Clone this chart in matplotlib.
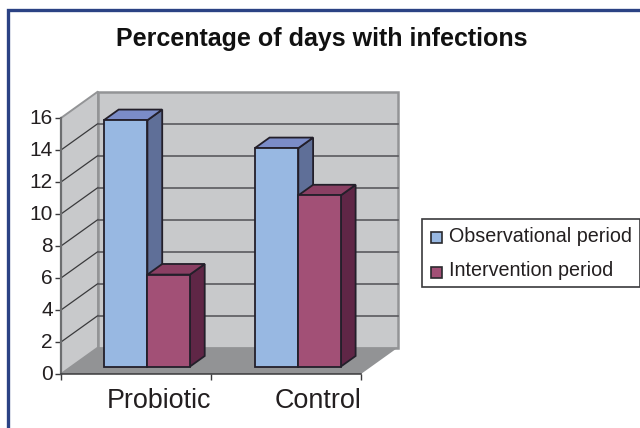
import matplotlib
matplotlib.use("Agg")
import matplotlib.pyplot as plt
from matplotlib.patches import Polygon, Rectangle

plt.rcParams['font.family'] = ['Liberation Sans', 'DejaVu Sans']

categories = ["Probiotic", "Control"]
series_names = ["Observational period", "Intervention period"]
observational = [15.4, 13.65]
intervention = [5.75, 10.7]
y_ticks = [0, 2, 4, 6, 8, 10, 12, 14, 16]

W, H = 640, 428
fig = plt.figure(figsize=(W / 100, H / 100), dpi=100, facecolor="white")

# full-figure overlay for the frame, in pixel coordinates
bg = fig.add_axes([0, 0, 1, 1], zorder=0)
bg.set_xlim(0, W); bg.set_ylim(H, 0); bg.axis("off")
bg.plot([7.5, 7.5, 640], [428, 9.5, 9.5], color="#2b4284", lw=2.4, solid_joinstyle="miter")

# front plane of the chart
L, R, B, T = 61, 361, 374, 118
ax = fig.add_axes([L / W, 1 - B / H, (R - L) / W, (B - T) / H], zorder=1)
ax.set_xlim(0, 2)
ax.set_ylim(0, 16)
ax.patch.set_visible(False)
for s in ax.spines.values():
    s.set_visible(False)

ux = (R - L) / 2      # px per category
uy = (B - T) / 16     # px per y unit
DX, DY = 37 / ux, 26.5 / uy   # total depth offset in data units


def pr(x, y, d):
    return (x + DX * d, y + DY * d)


def poly(pts, fc, ec="none", lw=0, z=1, clip=False):
    ax.add_patch(Polygon(pts, closed=True, facecolor=fc, edgecolor=ec, lw=lw,
                         zorder=z, clip_on=clip, joinstyle="miter"))


wall = "#c8c9cb"
edge = "#939496"
# back wall, side wall, floor
poly([pr(0, 0, 1), pr(2, 0, 1), pr(2, 16, 1), pr(0, 16, 1)], wall, edge, 1.8, 1)
poly([pr(0, 0, 0), pr(0, 0, 1), pr(0, 16, 1), pr(0, 16, 0)], wall, edge, 1.4, 1)
poly([pr(0, 0, 0), pr(2, 0, 0), pr(2, 0, 1), pr(0, 0, 1)], "#929395", "none", 0, 1.1)

# gridlines
for v in y_ticks[1:-1]:
    ax.plot([0, DX], [v, v + DY], color="#3a3a3c", lw=0.9, zorder=2, clip_on=False)
    ax.plot([DX, 2 + DX], [v + DY, v + DY], color="#5a5a5e", lw=1.2, zorder=2, clip_on=False)

# axes lines
ax.plot([0, 0], [0, 16], color="#6d6e70", lw=1.6, zorder=3, clip_on=False)
ax.plot([0, 2], [0, 0], color="#3a3a3c", lw=1.1, zorder=3, clip_on=False)

# 3D bars
bw = 42.5 / ux
d0, d1 = 0.28, 0.68
dk = "#231f2a"
centers = [0.507, 1.513]
for c, a, b in zip(centers, observational, intervention):
    for x0, v, front, side, top, zz in (
        (c - bw - 0.007, a, "#98b8e2", "#5f6f98", "#7b8cc8", 5),
        (c, b, "#a25076", "#5f2646", "#8a3f63", 6),
    ):
        x1 = c if x0 < c else c + bw
        poly([pr(x1, 0, d0), pr(x1, 0, d1), pr(x1, v, d1), pr(x1, v, d0)], side, dk, 1.3, zz)
        poly([pr(x0, v, d0), pr(x1, v, d0), pr(x1, v, d1), pr(x0, v, d1)], top, dk, 1.3, zz)
        poly([pr(x0, 0, d0), pr(x1, 0, d0), pr(x1, v, d0), pr(x0, v, d0)], front, dk, 1.3, zz)

ax.set_yticks(y_ticks)
ax.set_yticklabels([str(v) for v in y_ticks], fontsize=15, color="#231f20")
ax.set_xticks([0, 1, 2])
ax.set_xticklabels([])
ax.tick_params(axis="y", length=4, width=1, color="#3a3a3c", pad=2)
ax.tick_params(axis="x", length=4, width=1, color="#3a3a3c")
for lab in ax.get_yticklabels():
    lab.set_verticalalignment("center")
for c, name, off in zip(centers, categories, (16, 21.5)):
    ax.annotate(name, (c, 0), xytext=(off, -19.5), textcoords="offset points",
                ha="center", va="center", fontsize=19.4, color="#231f20",
                annotation_clip=False)

fig.text(321.5 / W, 1 - 39 / H, "Percentage of days with infections", ha="center", va="center",
         fontsize=18, fontweight="bold", color="#111111")

# legend
bg.set_zorder(2)
bg.add_patch(Rectangle((422, 219), 218, 68, facecolor="white", edgecolor="#3a3a3c", lw=1.2, clip_on=False))
for yy, col, name in zip((236, 271), ("#98b8e2", "#a25076"), series_names):
    bg.add_patch(Rectangle((430.5, yy - 4.5), 11, 11, facecolor=col, edgecolor="#2a2a2e", lw=1.2))
    bg.text(449, yy, name, ha="left", va="center", fontsize=14.25, color="#231f20")

fig.savefig("out.png", dpi=100)
